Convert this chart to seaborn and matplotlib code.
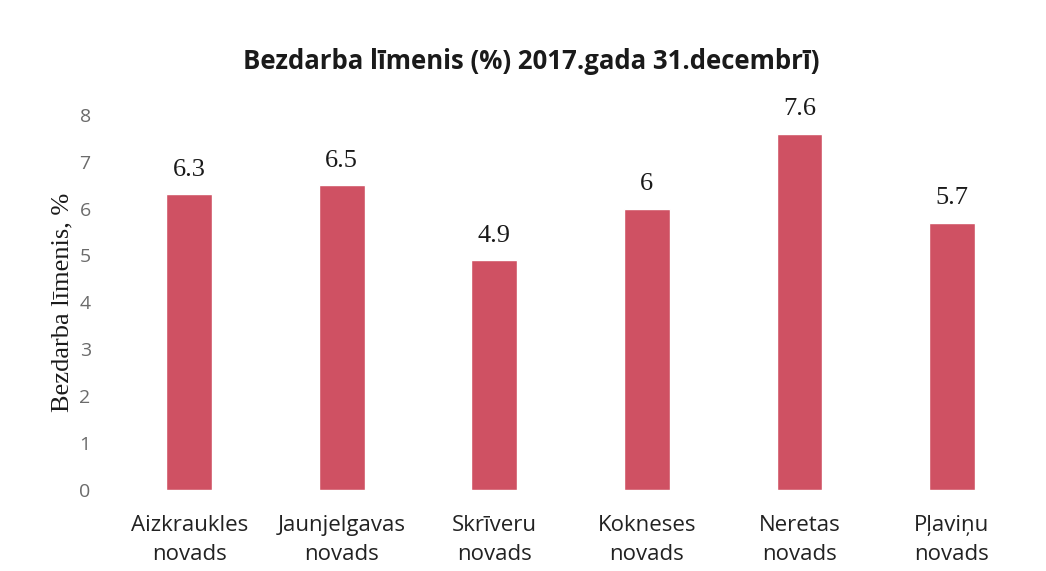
import matplotlib
matplotlib.use("Agg")
import matplotlib.pyplot as plt
import seaborn as sns
import pandas as pd

categories = ["Aizkraukles\nnovads", "Jaunjelgavas\nnovads", "Skrīveru\nnovads",
              "Kokneses\nnovads", "Neretas\nnovads", "Pļaviņu\nnovads"]
values = [6.3, 6.5, 4.9, 6.0, 7.6, 5.7]
value_labels = ["6.3", "6.5", "4.9", "6", "7.6", "5.7"]
yticks = [0, 1, 2, 3, 4, 5, 6, 7, 8]

sns.set_theme(style="white")
plt.rcParams['font.family'] = ['Open Sans', 'DejaVu Sans']

df = pd.DataFrame({"cat": categories, "val": values})

fig = plt.figure(figsize=(10.46, 5.71), dpi=100)
ax = fig.add_axes([0.108, 0.142, 0.875, 0.657])
sns.barplot(data=df, x="cat", y="val", color="#cf5163", saturation=1, width=0.3, ax=ax)

for i, (v, lab) in enumerate(zip(values, value_labels)):
    ax.text(i, v + 0.28, lab, ha="center", va="bottom", fontsize=19,
            family=["Liberation Serif"], color="#1a1a1a")

ax.set_ylim(0, 8)
ax.set_yticks(yticks)
ax.set_yticklabels([str(t) for t in yticks], fontsize=14, color="#6b6b6b")
ax.set_xticks(range(len(categories)))
ax.set_xticklabels(categories, fontsize=16, color="#222222", linespacing=1.5)
ax.tick_params(axis="x", pad=18, length=0)
ax.tick_params(axis="y", pad=16, length=0)
ax.set_xlabel("")
ax.set_ylabel("Bezdarba līmenis, %", fontsize=19, family=["Liberation Serif"], color="#1a1a1a", labelpad=4)
for s in ax.spines.values():
    s.set_visible(False)

fig.text(0.508, 0.893, "Bezdarba līmenis (%) 2017.gada 31.decembrī)", ha="center", va="center",
         fontsize=18.5, fontweight="bold", color="#1a1a1a")

fig.savefig("out.png", dpi=100, facecolor="white")
